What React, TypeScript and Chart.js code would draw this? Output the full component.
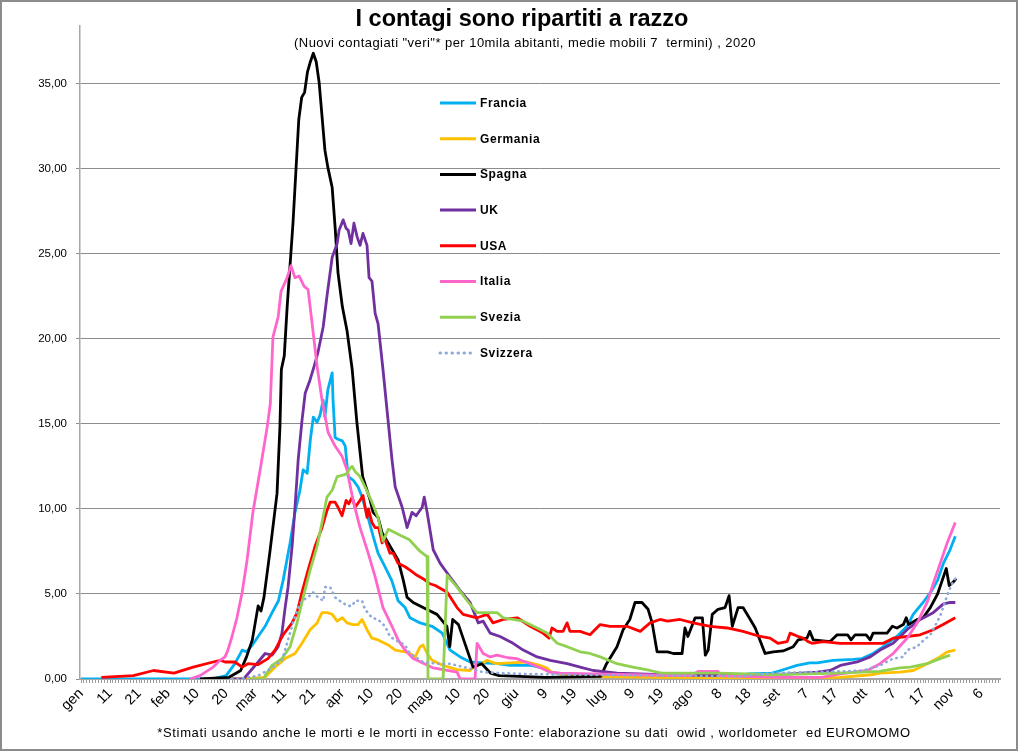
import React, { useEffect, useRef } from "react";
import { Chart, registerables } from "chart.js";

Chart.register(...registerables);

type Pt = [number, number];

const COUNTRIES = ["Francia", "Germania", "Spagna", "UK", "USA", "Italia", "Svezia", "Svizzera"];
const COLORS = ["#00B0F0", "#FFC000", "#000000", "#7030A0", "#FF0000", "#FF66CC", "#92D050", "#8EA9DB"];

const X_TICK_LABELS = ["gen", "11", "21", "feb", "10", "20", "mar", "11", "21", "apr", "10", "20", "mag", "10", "20", "giu", "9", "19", "lug", "9", "19", "ago", "8", "18", "set", "7", "17", "ott", "7", "17", "nov", "6"];
const Y_TICKS = [0, 5, 10, 15, 20, 25, 30, 35];

// [day of year (0 = 1 gen), value]
const francia: Pt[] = [[0,0],[45,0],[50,0.2],[53,0.9],[55.5,1.7],[57,1.6],[59,2],[61,2.5],[63.4,3.1],[65.8,3.9],[68,4.6],[69.6,5.8],[72,8],[73.7,9.8],[75.4,11.1],[76.5,12.3],[77.9,12.1],[79,14.1],[80,15.4],[81.3,15.1],[82.3,15.5],[83.4,16.4],[84,15.4],[85,17],[86.5,18],[86.8,16.4],[87.5,14.2],[88.5,14.1],[90,14],[91,13.7],[92,11.9],[93.7,11.7],[95.4,11.3],[96.8,10.7],[99,9.4],[100.6,8.4],[102.3,7.4],[104.7,6.6],[107,5.8],[109.2,4.6],[111.6,4.2],[113.3,3.6],[116.8,3.3],[120.9,3.1],[124.4,2.7],[127.1,1.7],[130.6,1.3],[134,1],[138.5,0.95],[143.3,0.9],[147.8,0.8],[155,0.8],[159,0.65],[161.6,0.4],[165,0.3],[175,0.2],[210,0.15],[225,0.2],[230,0.3],[238,0.35],[241,0.5],[246.6,0.8],[251,0.95],[253.5,0.95],[259,1.1],[266,1.15],[269,1.2],[272.8,1.5],[276.3,1.9],[281,2.5],[284.5,3.1],[286.6,3.8],[290,4.5],[293,5.2],[295,5.8],[297,6.8],[299.3,7.6],[301.1,8.4]];

const germania: Pt[] = [[52,0],[56,0],[63.4,0.1],[66.8,0.7],[70.3,1.2],[73.7,1.5],[76.1,2.1],[78.9,2.9],[81.3,3.3],[83,3.9],[85,3.9],[86.5,3.8],[88.2,3.4],[90,3.6],[91.6,3.3],[93.7,3.2],[95.4,3.2],[96.8,3.5],[98.5,2.9],[100.2,2.4],[102.3,2.3],[105.8,2],[108.2,1.7],[111.6,1.6],[113.3,1.5],[115.1,1.3],[116.8,1.9],[117.8,2],[119.2,1.5],[120.9,1.1],[124.7,0.8],[129.5,0.55],[134,0.5],[135,0.7],[138,0.9],[139.9,1.1],[143,0.9],[148,0.95],[153.6,1],[158,0.8],[160.5,0.65],[162,0.4],[164,0.35],[170,0.15],[200,0.1],[240,0.05],[261.5,0.1],[272,0.25],[275.2,0.35],[282,0.4],[286.6,0.5],[291.4,0.9],[294.9,1.2],[298.3,1.6],[301.1,1.7]];

const spagna: Pt[] = [[41,0],[51,0.1],[55,0.5],[57,1.3],[59,2.3],[61,4.3],[62,4.0],[63,4.8],[65,7.4],[67.5,10.9],[68.5,14.8],[69,18.2],[70,19],[71,21.9],[73,26.8],[75,32.9],[76,34.2],[77,34.5],[78,35.7],[79,36.3],[80,36.8],[81,36.3],[82,35.1],[84,31.1],[85,30.1],[86.5,28.9],[87.5,26.6],[88.5,23.9],[90,21.9],[91.6,20.5],[93.4,18.2],[95,15.1],[97,11.9],[99.6,10.5],[100.6,9.8],[102.3,9.5],[103.7,8.6],[105.8,8],[109.2,7],[111,5.8],[112.3,4.8],[114.4,4.5],[119,4.1],[122.6,3.8],[126,3.1],[127,1.9],[128,3.5],[130,3.2],[133,1.7],[135,0.7],[138,0.9],[141,0.35],[144,0.2],[160,0.1],[179,0.15],[181,0.9],[184.6,1.9],[186.7,2.9],[189,3.5],[190.8,4.5],[193.2,4.5],[195.3,4.1],[196.7,3.3],[198.4,1.6],[202,1.6],[204,1.5],[207,1.5],[208,3],[209,2.5],[211.5,3.6],[214,3.6],[215,1.4],[216,1.7],[217.4,3.8],[219.4,4.1],[221.8,4.2],[223.2,4.9],[224.3,3.1],[226.3,4.2],[228,4.2],[230.5,3.5],[232.2,3.0],[235.6,1.5],[238.4,1.6],[241.8,1.65],[245.3,1.9],[247,2.3],[250,2.4],[251,2.8],[252.2,2.3],[258,2.2],[260.4,2.6],[264,2.6],[265.2,2.3],[266.6,2.6],[270.4,2.6],[271.8,2.3],[272.8,2.7],[277.6,2.7],[279.4,3.1],[281,3.0],[283.2,3.2],[284.2,3.6],[285,3.2],[288,3.5],[290,3.6],[292.5,4.2],[295,5],[296.6,5.8],[298,6.5],[299,5.5],[300.4,5.7],[301.4,5.9]];

const uk: Pt[] = [[52,0],[56,0],[61,1],[63.4,1.5],[65.8,1.4],[67.9,1.9],[69.2,2.7],[70.3,4.2],[71.3,5.4],[72.7,7.8],[73.7,10.1],[74.8,12.9],[76.1,15.2],[77.2,16.8],[78.9,17.6],[80.3,18.4],[81.6,19.2],[83.4,20.7],[84.7,22.5],[86.5,24.8],[88.2,25.6],[88.9,26.4],[90.3,27],[91.3,26.5],[92,26.4],[93,25.6],[94,26.8],[95.1,26],[96.1,25.5],[97.1,26.2],[98.5,25.5],[99.2,23.6],[100.2,23.4],[101.3,21.5],[102.3,20.9],[104,18.2],[105.4,15.8],[107.1,12.9],[108.2,11.3],[110.6,10.1],[112.3,8.9],[114,9.8],[115.4,9.6],[117.5,10.1],[118.2,10.7],[119.2,9.8],[121.3,7.6],[123.7,6.8],[127.1,6],[130.6,5.2],[134,4.5],[136.8,3.3],[138.5,3.4],[140.9,2.7],[144.3,2.5],[148.8,2.1],[152.3,1.7],[157.1,1.3],[161.6,1.1],[167.4,0.9],[171.9,0.7],[176.4,0.5],[184.6,0.35],[200,0.25],[225,0.2],[244,0.3],[253.5,0.4],[258,0.5],[261.5,0.8],[267.3,1],[271.8,1.3],[275.2,1.7],[279.7,2.1],[284.5,2.9],[289,3.5],[293.5,3.9],[296.9,4.4],[299.3,4.5],[301.1,4.5]];

const usa: Pt[] = [[7,0.1],[18,0.2],[25,0.5],[32,0.35],[38.6,0.7],[45.5,1],[48,1.1],[49.6,1],[53,1],[55.5,0.7],[57.5,0.9],[61,0.85],[64.4,1.2],[66.8,1.7],[69.6,2.6],[72.7,3.3],[74.4,3.9],[76.1,5.1],[78.2,6.4],[80.6,7.8],[83,8.9],[84.7,9.9],[85.8,10.4],[87.5,10.4],[88.5,10.1],[89.9,9.6],[91.3,10.5],[92.2,10.3],[93.4,10.7],[94.4,10.1],[96.1,10.5],[97.1,10.8],[98.5,9.5],[99,10],[100.2,9.2],[101.3,8.9],[102.5,8.9],[103.7,8],[104.5,8.3],[106.4,7.4],[107.5,7.4],[109.2,6.8],[111.6,6.6],[113.3,6.4],[115.7,6.1],[117.8,5.9],[120.2,5.6],[122,5.5],[126.1,5.1],[129.5,4.2],[131.6,3.8],[136.4,3.6],[139.9,3.8],[141.9,3.3],[145.4,3.5],[150.2,3.6],[154.7,3.1],[159.1,2.7],[161.2,2.4],[162.2,3],[164,2.8],[166,2.8],[167.4,3.3],[168.4,2.8],[171.9,2.8],[175.3,2.6],[178.8,3.2],[182.2,3.1],[188,3.1],[192.6,2.8],[196,3.3],[199.4,3.5],[202,3.4],[206.3,3.5],[210.8,3.3],[216.7,3.1],[222.5,3],[228,2.8],[233.9,2.5],[237.3,2.4],[240,2.1],[243.2,2.2],[244.2,2.7],[247,2.5],[248.7,2.4],[250.4,2.2],[251.8,2.1],[255.6,2.2],[261.5,2.1],[272.8,2.1],[276.3,2.1],[279.7,2.4],[284.5,2.5],[289,2.6],[293.5,2.9],[296.9,3.2],[301.1,3.6]];

const italia: Pt[] = [[37.5,0],[41,0.2],[45.5,0.7],[47.9,1.1],[49.6,1.3],[50.6,1.7],[52,2.5],[53.7,3.6],[55.5,5.1],[57.2,7],[59.2,9.8],[61.7,12.3],[64.1,14.8],[65.2,16.2],[66.1,20.1],[67.9,21.3],[68.9,22.8],[71,23.6],[72.3,24.3],[73.7,23.6],[75.1,23.7],[76.8,23.1],[78.2,22.9],[79.6,20.9],[81.3,18.4],[83,16.4],[85.1,14.5],[87.5,13.7],[89.9,13.1],[91.6,12.3],[93.7,10.5],[96.1,8.9],[98.9,7.4],[101.3,6],[104,4.2],[107.1,3.1],[109.2,2.3],[111.6,1.7],[114.4,1.2],[121.3,0.65],[129.5,0.4],[130.6,0],[135.7,0],[136.4,2.1],[138.5,1.5],[140.9,1.3],[143.3,1.4],[147,1.25],[150,1.2],[154.7,0.9],[159,0.6],[161.6,0.4],[165,0.35],[176.4,0.3],[190,0.25],[210,0.2],[212.5,0.45],[219.4,0.45],[220,0.2],[240,0.1],[255,0.1],[261.5,0.3],[270.8,0.5],[275.2,0.9],[279.7,1.5],[284.5,2.4],[288,3.3],[291.4,4.5],[293.5,5.6],[295.9,6.8],[298.3,8],[301.1,9.2]];

const svezia: Pt[] = [[58,0],[63,0],[63.4,0.2],[65.8,0.8],[69.2,1.2],[72,1.9],[74.4,3.3],[76.5,4.8],[78.9,6.4],[81.3,7.8],[83,9.2],[84.7,10.7],[86.5,11.1],[88.2,11.9],[90.5,12],[91.6,12.1],[92.7,12.4],[93.4,12.5],[94.4,12.2],[96.1,11.9],[97.8,11.3],[100.2,10.4],[102.3,9.5],[104,8.1],[105.8,8.8],[108.2,8.6],[110.6,8.4],[113,8.2],[116.8,7.5],[119.2,7.2],[119.5,0],[124.7,0],[126.1,6.1],[129.5,5.4],[133,4.6],[136.4,3.9],[139.9,3.9],[143.3,3.9],[145.4,3.6],[148.8,3.5],[152.3,3.4],[157.1,3],[160.5,2.7],[164,2.1],[167.4,1.9],[171.9,1.6],[175.3,1.5],[178.8,1.3],[184.6,0.9],[190,0.7],[196,0.5],[200,0.35],[220,0.35],[238,0.25],[260,0.35],[275,0.45],[282,0.65],[285.6,0.7],[291.4,0.9],[295.9,1.2],[299.3,1.4]];

const svizzera: Pt[] = [[52,0],[54,0],[61,0.2],[65.8,0.65],[69.2,1.1],[71.3,2.3],[73,3.3],[74.8,4.2],[76.1,4.6],[78.2,4.8],[79.9,5.1],[81.6,4.8],[83.5,4.6],[84,5.4],[85.8,5.4],[87.5,4.8],[89.9,4.5],[92,4.3],[93.4,4.3],[94.4,4.6],[96.8,4.6],[97.8,4.1],[100.2,3.6],[102.3,3.5],[104.7,3.1],[106.4,2.5],[109.2,2.2],[111.6,2],[113.3,1.5],[115.1,1.3],[117.8,1],[122.6,0.9],[127.1,0.9],[133,0.65],[138.5,0.4],[144.3,0.35],[152.3,0.3],[170,0.25],[200,0.2],[227,0.15],[238.4,0.35],[250,0.4],[261.5,0.45],[269.4,0.5],[275.2,0.8],[279.7,1.2],[283.2,1.3],[284.5,1.7],[288,1.9],[289,2.1],[292.5,2.6],[295.9,3.7],[296.9,4.2],[298.7,5.1],[300,5.6],[301.1,5.9]];

const SERIES: Pt[][] = [francia, germania, spagna, uk, usa, italia, svezia, svizzera];

const FONT = "'Liberation Sans', Arial, sans-serif";
const W = 1019;
const H = 751;
const X_MIN = -0.35;
const X_MAX = 316.5;
const Y_MAX = 38.4;

const legendPlugin = {
  id: "inlineLegend",
  afterDraw(chart: any) {
    const ctx = chart.ctx as CanvasRenderingContext2D;
    ctx.save();
    COUNTRIES.forEach((name, i) => {
      const y = 103 + i * 35.7;
      ctx.beginPath();
      ctx.strokeStyle = COLORS[i];
      ctx.lineWidth = 3;
      if (i === 7) {
        ctx.setLineDash([0.5, 5.5]);
        ctx.lineCap = "round";
      } else {
        ctx.setLineDash([]);
        ctx.lineCap = "butt";
      }
      ctx.moveTo(440, y);
      ctx.lineTo(476, y);
      ctx.stroke();
      ctx.setLineDash([]);
      ctx.fillStyle = "#000";
      ctx.font = `bold 12px ${FONT}`;
      (ctx as any).letterSpacing = "0.6px";
      ctx.textBaseline = "middle";
      ctx.textAlign = "left";
      ctx.fillText(name, 480, y + 0.5);
    });
    ctx.restore();
  },
};

export default function App() {
  const ref = useRef<HTMLCanvasElement | null>(null);

  useEffect(() => {
    if (!ref.current) return;
    const chart = new Chart(ref.current, {
      type: "line",
      data: {
        datasets: SERIES.map((s, i) => ({
          label: COUNTRIES[i],
          data: s.map(([x, y]) => ({ x, y })),
          borderColor: COLORS[i],
          backgroundColor: COLORS[i],
          borderWidth: i === 7 ? 2.6 : 2.8,
          pointRadius: 0,
          pointHoverRadius: 0,
          fill: false,
          tension: 0,
          order: 8 - i,
          borderDash: i === 7 ? [0.5, 5] : [],
          borderCapStyle: i === 7 ? "round" : "butt",
          borderJoinStyle: "round",
        })),
      },
      options: {
        animation: false,
        responsive: false,
        parsing: true,
        layout: { padding: { left: 0, right: 19, top: 26, bottom: 0 } },
        plugins: {
          legend: { display: false },
          tooltip: { enabled: false },
          title: { display: false },
        },
        scales: {
          x: {
            type: "linear",
            min: X_MIN,
            max: X_MAX,
            afterBuildTicks: (axis: any) => {
              const t = [];
              for (let d = 0; d <= Math.floor(X_MAX); d++) t.push({ value: d });
              axis.ticks = t;
            },
            afterFit: (s: any) => {
              s.height = H - 679;
            },
            ticks: {
              autoSkip: false,
              maxRotation: 45,
              minRotation: 45,
              padding: 2,
              color: "#000",
              font: { size: 14.5, family: FONT },
              callback: (v: any) => {
                const n = Math.round(Number(v));
                return n % 10 === 0 ? X_TICK_LABELS[n / 10] ?? "" : "";
              },
            },
            grid: { drawOnChartArea: false, drawTicks: true, tickLength: 4, color: "#9a9a9a", lineWidth: 1 },
            border: { display: true, color: "#a6a6a6", width: 2 },
          },
          y: {
            type: "linear",
            min: 0,
            max: Y_MAX,
            afterBuildTicks: (axis: any) => {
              axis.ticks = Y_TICKS.map((v) => ({ value: v }));
            },
            afterFit: (s: any) => {
              s.width = 80;
            },
            ticks: {
              padding: 9,
              color: "#000",
              font: { size: 11.5, family: FONT },
              callback: (v: any) => Number(v).toFixed(2).replace(".", ","),
            },
            grid: { color: "#8c8c8c", lineWidth: 1, tickLength: 4 },
            border: { display: true, color: "#a6a6a6", width: 1.5 },
          },
        },
      },
      plugins: [legendPlugin],
    } as any);
    return () => chart.destroy();
  }, []);

  return (
    <div style={{ position: "absolute", left: 0, top: 0, width: W, height: H, background: "#fff", overflow: "hidden" }}>
      <canvas ref={ref} width={W} height={H} style={{ position: "absolute", left: 0, top: 0, width: W, height: H }} />
      <div style={{ position: "absolute", left: 522, top: 7, transform: "translateX(-50%)", whiteSpace: "nowrap", fontFamily: FONT, fontWeight: 700, fontSize: 23.5, lineHeight: 1, color: "#000" }}>
        I contagi sono ripartiti a razzo
      </div>
      <div style={{ position: "absolute", left: 525, top: 36, transform: "translateX(-50%)", whiteSpace: "pre", fontFamily: FONT, fontSize: 13, letterSpacing: "0.45px", lineHeight: 1, color: "#000" }}>
        {'(Nuovi contagiati "veri"* per 10mila abitanti, medie mobili 7  termini) , 2020'}
      </div>
      <div style={{ position: "absolute", left: 534, top: 726, transform: "translateX(-50%)", whiteSpace: "pre", fontFamily: FONT, fontSize: 13, letterSpacing: "0.65px", lineHeight: 1, color: "#000" }}>
        {"*Stimati usando anche le morti e le morti in eccesso Fonte: elaborazione su dati  owid , worldometer  ed EUROMOMO"}
      </div>
      <div style={{ position: "absolute", left: 0, top: 0, width: W - 1, height: H, border: "2px solid #8c8c8c", boxSizing: "border-box", pointerEvents: "none" }} />
    </div>
  );
}
